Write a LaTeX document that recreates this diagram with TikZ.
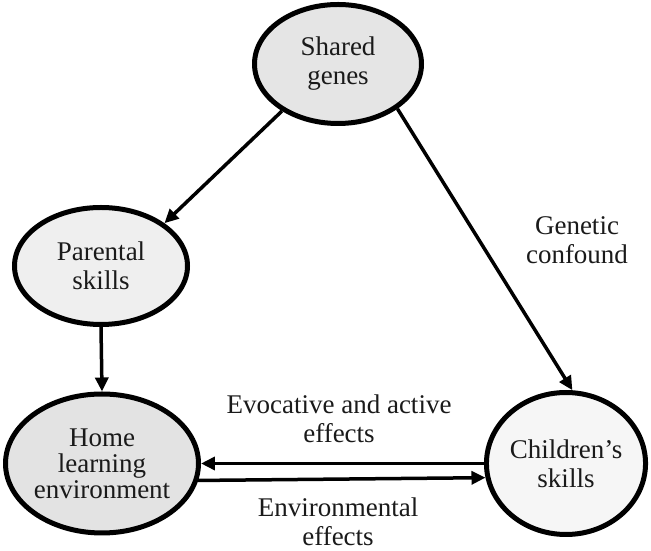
\documentclass[tikz,border=0pt]{standalone}
\usepackage{fontspec}
\setmainfont{Liberation Serif}
\usetikzlibrary{shapes.geometric,arrows.meta}
\definecolor{fillA}{HTML}{E5E5E5}
\definecolor{fillB}{HTML}{EFEFEF}
\definecolor{fillC}{HTML}{E3E3E3}
\definecolor{fillD}{HTML}{F6F6F6}
\definecolor{ink}{HTML}{1A1A1A}
\tikzset{
  blob/.style={ellipse, draw=black, line width=5pt, inner sep=0pt,
    align=center, text=ink, font=\fontsize{27}{29}\selectfont},
  conn/.style={line width=3.5pt, -{Triangle[length=14pt,width=13pt]}},
  lbl/.style={align=center, text=ink, font=\fontsize{27}{29}\selectfont}
}
\begin{document}
\begin{tikzpicture}[x=1pt,y=1pt]
\useasboundingbox (0,0) rectangle (651,551);

% causal nodes
\node[blob, fill=fillA, minimum width=167pt, minimum height=119pt] (sg) at (338,487) {Shared\\genes};
\node[blob, fill=fillB, minimum width=173pt, minimum height=117pt] (ps) at (101,285) {Parental\\skills};
\node[blob, fill=fillC, minimum width=171pt, minimum height=139pt,
      font=\fontsize{27}{26}\selectfont] (hl) at (102,87.5) {Home\\learning\\environment};
\node[blob, fill=fillD, minimum width=158pt, minimum height=142pt] (cs) at (566,87.5) {Children’s\\skills};

% paths between them
\draw[conn] (sg.220) -- (ps.34);
\draw[conn] (sg.-37) -- (cs.85);
\draw[conn] (ps.south) -- (hl.north);
\draw[conn] (cs.180) -- (hl.0);
\draw[conn] (hl.-10) -- (cs.190);

% path labels
\node[lbl] (gc) at (577,311) {Genetic\\confound};
\node[lbl] (ev) at (339,132) {Evocative and active\\effects};
\node[lbl] (en) at (338,29) {Environmental\\effects};
\end{tikzpicture}
\end{document}
